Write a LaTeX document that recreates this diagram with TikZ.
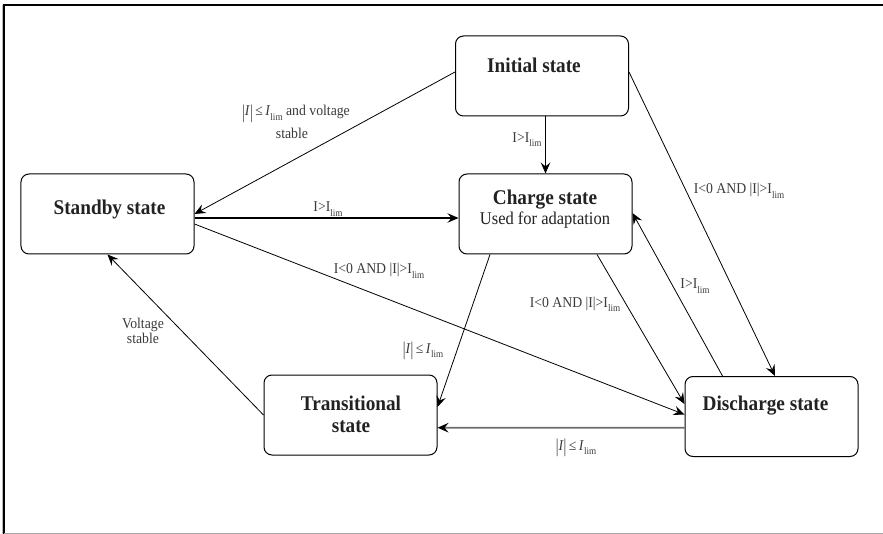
\documentclass[tikz,border=0pt]{standalone}
\usepackage{fontspec}
\setmainfont{Liberation Serif}[FakeStretch=0.92]
\usepackage{graphicx}
\usetikzlibrary{arrows.meta}

\definecolor{titlecol}{HTML}{222222}
\definecolor{lblcol}{HTML}{3A3A3A}
\definecolor{greyline}{HTML}{6E6E6E}

% tall bars for |I|, the I subscript "lim", and the "|I| <= I_lim" condition
\newcommand\tallbar{\raisebox{-0.14em}{\scalebox{1}[1.3]{|}}}
\newcommand\sublim{\raisebox{-0.28em}{\fontsize{10}{10}\selectfont lim}}
\newcommand\absleq{\tallbar\textit{I}\tallbar\,≤\,\textit{I}\sublim}
\newcommand\Igt{I>I\sublim}
\newcommand\Ineg{I<0 AND |I|>I\sublim}

\begin{document}
\begin{tikzpicture}[x=1bp,y=-1bp,
  state/.style={draw, rounded corners=8bp, minimum width=173bp,
    minimum height=80bp, line width=1bp, inner sep=0pt},
  title/.style={anchor=base, inner sep=0pt, text=titlecol,
    font=\fontsize{21}{24}\selectfont\bfseries},
  subtitle/.style={anchor=base, inner sep=0pt, text=titlecol,
    font=\fontsize{18}{20}\selectfont},
  lbl/.style={anchor=base, inner sep=0pt, text=lblcol,
    font=\fontsize{15}{17}\selectfont},
  arr/.style={-{Stealth[length=11bp,width=9.5bp,inset=4bp]}, line width=0.8bp},
]
\useasboundingbox (0,0) rectangle (883,534);

% outer frame: top and left edges black, bottom edge grey
\draw[gray!55, line width=1bp] (2.5,5) -- (2.5,534);
\draw[line width=2bp] (4,5) -- (883,5);
\draw[line width=1.5bp] (4,4) -- (4,534);
\draw[gray!70, line width=1bp] (4,533.3) -- (883,533.3);

% states
\node[state] (init)    at (542,76)    {};
\node[state] (charge)  at (545.5,214) {};
\node[state] (standby) at (107.5,214) {};
\node[state] (trans)   at (350.5,415) {};
\node[state] (dis)     at (771.5,416.5) {};

\node[title]    (initT)    at (534,72.5)  {Initial state};
\node[title]    (chargeT)  at (545,205)   {Charge state};
\node[subtitle] (chargeS)  at (545,225)   {Used for adaptation};
\node[title]    (standbyT) at (109.5,215) {Standby state};
\node[title]    (transT)   at (351,410.7) {Transitional};
\node[title]    (transT2)  at (351,432.7) {state};
\node[title]    (disT)     at (765.5,410.7) {Discharge state};

% transitions
\draw[arr] ([yshift=4bp]init.west) -- (standby.east);
\draw[arr] (init.south -| charge.north) -- (charge.north);
\draw[arr] ([yshift=4bp]init.east) -- ([xshift=3.5bp]dis.north);
\draw[arr, line width=1.2bp] ([yshift=-4bp]standby.east) -- ([yshift=-4bp]charge.west);
\draw[arr] ([yshift=-10bp]standby.east) -- ([yshift=2bp]dis.west);
\draw[arr] ([xshift=-55.5bp]charge.south) -- ([yshift=8bp]trans.east);
\draw[arr] ([xshift=51.5bp]charge.south) -- ([yshift=12.5bp]dis.west);
\draw[arr] ([xshift=-49bp]dis.north) -- ([yshift=1bp]charge.east);
\draw[arr, greyline, line width=1.6bp, -{Stealth[length=11bp,width=9.5bp,inset=4bp,color=black]}]
  ([yshift=-11.2bp]dis.west) -- ([yshift=-12.7bp]trans.east);
\draw[arr] (trans.west) -- (standby.south);

% transition conditions
\node[lbl] (l1a) at (296,116)     {\absleq{} and voltage};
\node[lbl] (l1b) at (292,138.3)   {stable};
\node[lbl] (l2)  at (527,142.3)   {\Igt};
\node[lbl] (l3)  at (739,194)     {\Ineg};
\node[lbl] (l4)  at (328,212)     {\Igt};
\node[lbl] (l5)  at (379,274)     {\Ineg};
\node[lbl] (l6)  at (423,353.3)   {\absleq};
\node[lbl] (l7)  at (575,307.3)   {\Ineg};
\node[lbl] (l8)  at (695,289)     {\Igt};
\node[lbl] (l9)  at (576,450)     {\absleq};
\node[lbl] (l10a) at (143,328.3)  {Voltage};
\node[lbl] (l10b) at (143,343.3)  {stable};
\end{tikzpicture}
\end{document}
